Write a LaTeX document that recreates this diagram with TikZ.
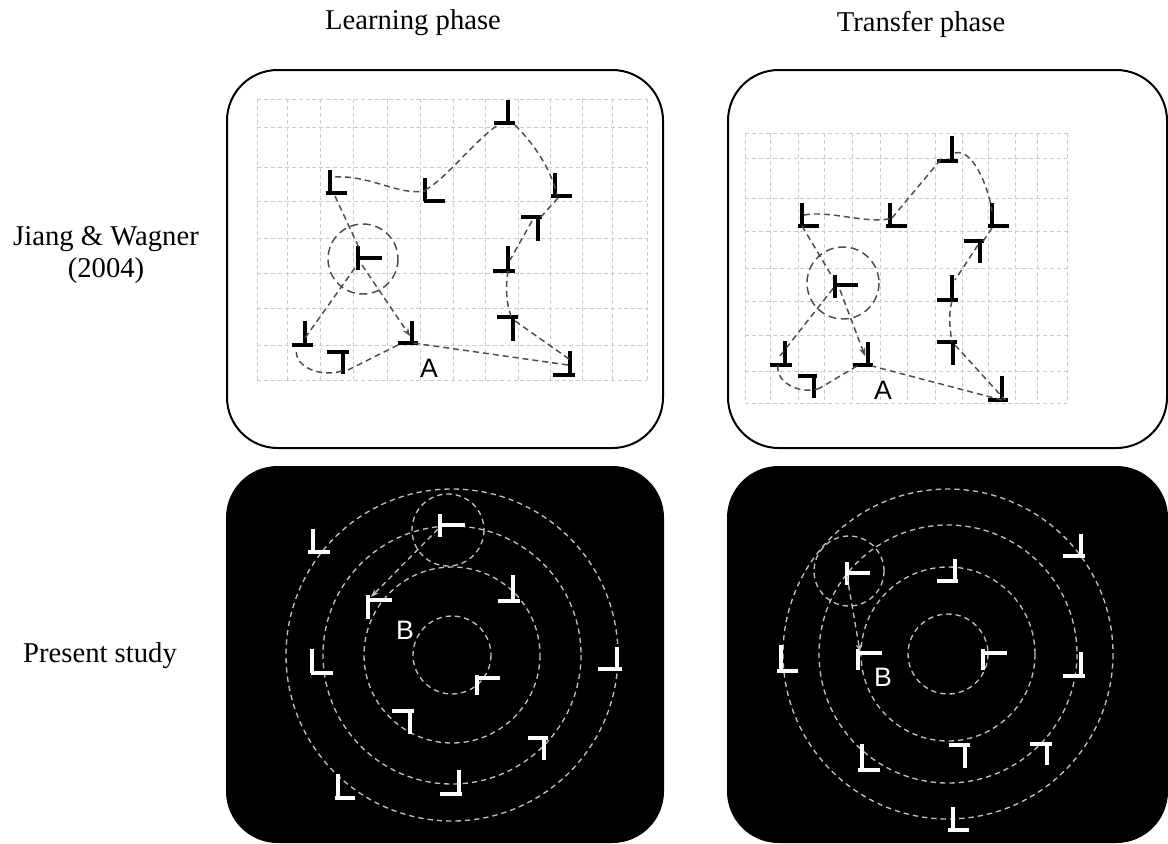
\documentclass[tikz,border=0pt]{standalone}
\usepackage{fontspec}
\setmainfont{Liberation Serif}
\newfontfamily\labelsans{Liberation Sans}
\usetikzlibrary{arrows.meta,calc}

% one display item: vertical bar at x=#2 from #3 to #4, horizontal bar from #5 to #6 at y=#7;
% a coordinate #1 marks the junction
\newcommand\glyph[7]{%
  \coordinate (#1) at (#2,#7);
  \draw[glyphline] (#2,#3) -- (#2,#4) (#5,#7) -- (#6,#7);}

\begin{document}
\begin{tikzpicture}[x=0.75pt,y=-0.75pt,
  panel/.style={line width=1.5pt, rounded corners=38pt},
  gridline/.style={draw=black!20, line width=0.7pt, dash pattern=on 3pt off 2.2pt},
  glyphline/.style={line width=2.3pt},
  route/.style={draw=black!70, line width=1.1pt, dash pattern=on 4.5pt off 3pt},
  focus/.style={draw=black!70, line width=1.1pt, dash pattern=on 6pt off 3.5pt},
  ring/.style={draw=black!25, line width=1pt, dash pattern=on 4pt off 3pt},
  ringarrow/.style={draw=black!25, line width=1pt, dash pattern=on 4pt off 3pt},
  tip/.style={-{Stealth[length=6pt,width=4.5pt]}},
  title/.style={font=\fontsize{21.5}{26}\selectfont, anchor=base},
  letter/.style={font=\labelsans\fontsize{20}{24}\selectfont}]

\useasboundingbox (0,0) rectangle (1168,843);

% ---- headings ----
\node[title] (hLearn) at (413,29) {Learning phase};
\node[title] (hTrans) at (921,31) {Transfer phase};
\node[title] (hJW1) at (106,245) {Jiang \& Wagner};
\node[title] (hJW2) at (106,277) {(2004)};
\node[title] (hPS) at (100,662) {Present study};

% ---- panels ----
\draw[panel] (227,70) rectangle (663,448);
\draw[panel] (728,70) rectangle (1167,448);
\fill[panel, draw=black] (227,467) rectangle (663,842);
\fill[panel, draw=black] (728,467) rectangle (1167,842);

% ---- grid, learning phase ----
\foreach \gx in {257,287,320,353,387,420,453,485,518,550,582,612,647}
  \draw[gridline] (\gx,99) -- (\gx,380);
\foreach \gy in {99,127,167,201,238,273,308,345,380}
  \draw[gridline] (257,\gy) -- (647,\gy);

% ---- grid, transfer phase ----
\foreach \gx in {745,770,798,824,852,880,907,935,962,988,1015,1037,1067}
  \draw[gridline] (\gx,133) -- (\gx,403);
\foreach \gy in {133,158,198,231,268,301,335,371,403}
  \draw[gridline] (745,\gy) -- (1067,\gy);

% ---- items, learning phase ----
\glyph{a1}{508}{100}{123}{494}{515}{123}
\glyph{a2}{330}{170}{193}{326}{347}{193}
\glyph{a3}{425}{178}{201}{424}{445}{201}
\glyph{a4}{555}{173}{196}{551}{572}{196}
\glyph{a5}{538}{217}{241}{521}{542}{217}
\glyph{a6}{358}{246}{270}{358}{382}{258}
\glyph{a7}{508}{246}{271}{493}{515}{271}
\glyph{a8}{513}{317}{341}{497}{518}{317}
\glyph{a9}{305}{321}{345}{292}{313}{345}
\glyph{a10}{343}{352}{374}{327}{349}{352}
\glyph{a11}{412}{321}{343}{398}{418}{343}
\glyph{a12}{570}{351}{375}{553}{575}{375}
\node[letter] (lA1) at (429,368) {A};

\draw[focus] ($(a6)+(5,1)$) circle[radius=35];
\draw[route] ($(a2)+(5,-16)$) .. controls (370,175) and (400,196) .. ($(a3)+(0,-10)$);
\draw[route] ($(a3)+(0,-11)$) .. controls (445,180) and (475,140) .. ($(a1)+(-10,2)$);
\draw[route] ($(a1)+(7,2)$) .. controls (530,140) and (550,165) .. ($(a4)+(2,-1)$);
\draw[route] ($(a4)+(3,2)$) -- ($(a5)+(2,1)$);
\draw[route] ($(a5)+(-6,4)$) -- ($(a7)+(2,-11)$);
\draw[route] (a7) .. controls (505,290) and (507,305) .. ($(a8)+(-2,-1)$);
\draw[route] ($(a8)+(2,4)$) -- ($(a12)+(2,-14)$);
\draw[route] ($(a12)+(-2,-10)$) -- ($(a11)+(1,0)$);
\draw[route] ($(a11)+(-14,2)$) -- ($(a10)+(5,18)$);
\draw[route] ($(a10)+(-1,19)$) .. controls (318,378) and (292,365) .. ($(a9)+(-8,3)$);
\draw[route] ($(a9)+(0,-7)$) -- ($(a6)+(-1,7)$);
\draw[route] ($(a2)+(5,3)$) -- ($(a6)+(2,-8)$);
\draw[route, tip] ($(a6)+(4,7)$) -- ($(a11)+(-2,-7)$);

% ---- items, transfer phase ----
\glyph{b1}{952}{136}{161}{937}{958}{161}
\glyph{b2}{802}{203}{226}{798}{819}{226}
\glyph{b3}{890}{203}{226}{886}{907}{226}
\glyph{b4}{992}{203}{226}{988}{1009}{226}
\glyph{b5}{980}{241}{263}{964}{984}{241}
\glyph{b6}{835}{275}{298}{835}{858}{285}
\glyph{b7}{952}{275}{300}{937}{958}{300}
\glyph{b8}{953}{342}{365}{937}{957}{342}
\glyph{b9}{785}{341}{365}{770}{792}{365}
\glyph{b10}{814}{376}{398}{798}{817}{376}
\glyph{b11}{868}{342}{365}{853}{873}{365}
\glyph{b12}{1002}{376}{400}{988}{1008}{400}
\node[letter] (lA2) at (883,390) {A};

\draw[focus] ($(b6)+(8,-2)$) circle[radius=36];
\draw[route] ($(b2)+(2,-11)$) .. controls (830,210) and (870,225) .. ($(b3)+(2,-8)$);
\draw[route] ($(b3)+(2,-8)$) -- ($(b1)+(-10,-3)$);
\draw[route] ($(b1)+(3,-8)$) .. controls (972,148) and (988,185) .. ($(b4)+(0,-15)$);
\draw[route] ($(b4)+(0,2)$) -- ($(b5)+(2,2)$);
\draw[route] ($(b5)+(-2,4)$) -- ($(b7)+(3,-20)$);
\draw[route] ($(b7)+(0,1)$) .. controls (948,315) and (950,330) .. ($(b8)+(-1,0)$);
\draw[route] ($(b8)+(2,3)$) -- ($(b12)+(3,0)$);
\draw[route] ($(b12)+(0,0)$) -- ($(b11)+(4,1)$);
\draw[route] ($(b11)+(-11,1)$) -- ($(b10)+(6,12)$);
\draw[route] ($(b10)+(6,12)$) .. controls (805,395) and (775,385) .. ($(b9)+(-7,0)$);
\draw[route] ($(b9)+(-5,-9)$) -- ($(b6)+(0,1)$);
\draw[route] ($(b2)+(0,0)$) -- ($(b6)+(-2,-7)$);
\draw[route, tip] ($(b6)+(5,5)$) -- ($(b11)+(-3,-9)$);

% ---- items, present study, learning ----
\begin{scope}[glyphline/.append style={draw=white}]
\draw[ring] (452,655) circle[radius=39];
\draw[ring] (452,655) circle[radius=88];
\draw[ring] (452,655) circle[radius=129];
\draw[ring] (452,655) circle[radius=166];
\draw[ring] (448,530) circle[radius=36];
\glyph{c1}{313}{529}{552}{308}{330}{552}
\glyph{c2}{440}{514}{537}{440}{465}{525}
\glyph{c3}{513}{575}{601}{498}{520}{601}
\glyph{c4}{368}{595}{619}{368}{392}{600}
\glyph{c5}{312}{649}{673}{311}{333}{673}
\glyph{c6}{617}{647}{669}{598}{622}{669}
\glyph{c7}{477}{675}{695}{477}{500}{678}
\glyph{c8}{410}{711}{734}{392}{414}{711}
\glyph{c9}{544}{738}{760}{528}{548}{738}
\glyph{c10}{338}{774}{798}{335}{355}{798}
\glyph{c11}{459}{770}{794}{440}{462}{794}
\node[letter, text=white] (lB1) at (405,630) {B};
\draw[ringarrow, tip] ($(c2)+(-2,4)$) -- ($(c4)+(3,-3)$);

% ---- items, present study, transfer ----
\draw[ring] (948,654) circle[radius=40];
\draw[ring] (948,654) circle[radius=87];
\draw[ring] (948,654) circle[radius=129];
\draw[ring] (948,654) circle[radius=165];
\draw[ring] (849,571) circle[radius=35];
\glyph{d1}{1081}{534}{556}{1063}{1085}{556}
\glyph{d2}{955}{559}{581}{937}{958}{581}
\glyph{d3}{847}{562}{585}{847}{870}{573}
\glyph{d4}{781}{645}{671}{777}{798}{671}
\glyph{d5}{858}{649}{670}{858}{882}{653}
\glyph{d6}{983}{649}{670}{983}{1007}{653}
\glyph{d7}{1081}{652}{676}{1063}{1085}{676}
\glyph{d8}{862}{744}{770}{858}{880}{770}
\glyph{d9}{965}{745}{768}{949}{970}{745}
\glyph{d10}{1047}{744}{765}{1030}{1052}{744}
\glyph{d11}{953}{807}{830}{948}{969}{830}
\node[letter, text=white] (lB2) at (883,677) {B};
\draw[ringarrow, tip] ($(d3)+(0,3)$) -- ($(d5)+(2,-1)$);
\end{scope}

\end{tikzpicture}
\end{document}
